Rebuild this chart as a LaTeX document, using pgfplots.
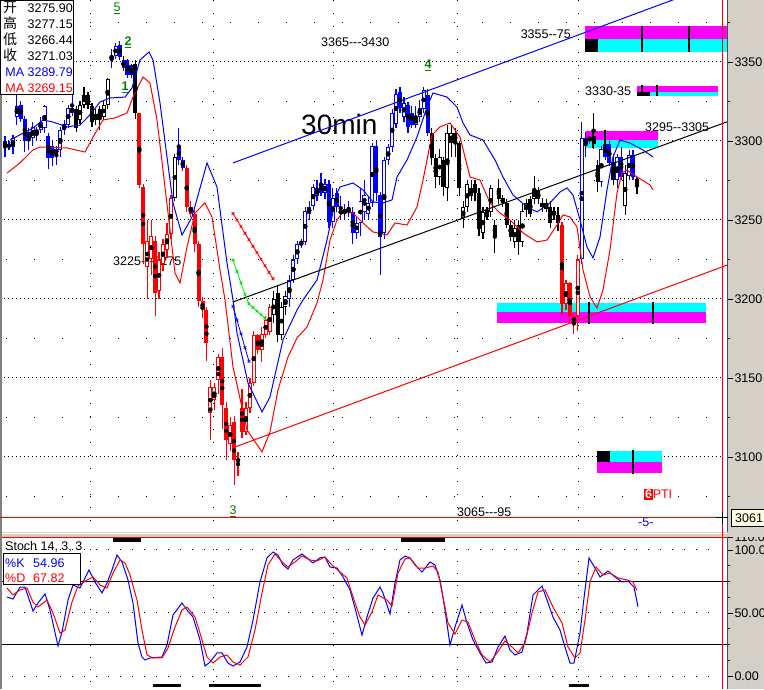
\documentclass[border=0pt]{standalone}
\usepackage{fontspec}
\setmainfont{Liberation Sans}[Ligatures=TeXOff]
\newfontfamily\cjk{Noto Sans CJK SC}
\usepackage{pgfplots}
\usepackage{pgfplotstable}
\pgfplotsset{compat=1.18}
\definecolor{wgray}{RGB}{212,208,200}
\definecolor{dgreen}{RGB}{0,128,0}
\definecolor{cy}{RGB}{0,255,255}
\definecolor{mg}{RGB}{255,0,255}
\definecolor{lg}{RGB}{0,230,0}
\definecolor{pr}{RGB}{255,0,0}
\definecolor{pb}{RGB}{0,0,255}
\definecolor{cream}{RGB}{255,255,225}
\newcommand{\fs}{\fontsize{12.5}{14}\selectfont}

\pgfplotstableread{
i o h l c k
0 3300 3303 3290 3296 2
1 3298 3300 3294 3296 2
2 3296 3304 3292 3302 2
3 3315 3330 3310 3322 2
4 3323 3325 3312 3314 2
5 3314 3316 3293 3300 2
6 3301 3308 3294 3306 2
7 3302 3312 3297 3309 2
8 3305 3309 3300 3307 2
9 3307 3315 3305 3312 2
10 3308 3323 3305 3322 2
11 3303 3305 3282 3289 2
12 3297 3300 3284 3289 2
13 3292 3297 3285 3295 2
14 3294 3309 3290 3307 2
15 3307 3313 3304 3311 2
16 3310 3323 3308 3321 2
17 3321 3329 3316 3318 2
18 3320 3322 3306 3308 3
19 3313 3325 3311 3323 3
20 3323 3334 3321 3329 3
21 3329 3331 3320 3323 3
22 3322 3324 3309 3312 3
23 3313 3320 3310 3317 3
24 3320 3322 3307 3315 3
25 3315 3325 3313 3323 3
26 3323 3340 3320 3339 3
27 3352 3358 3346 3354 2
28 3354 3362 3352 3360 2
29 3361 3363 3351 3353 2
30 3351 3354 3344 3346 2
31 3351 3352 3340 3342 2
32 3348 3349 3340 3342 2
33 3349 3351 3314 3318 3
34 3318 3318 3270 3272 1
35 3271 3273 3222 3235 1
36 3220 3250 3200 3237 1
37 3225 3250 3215 3240 1
38 3237 3240 3189 3204 1
39 3205 3230 3200 3225 1
40 3222 3238 3218 3235 1
41 3231 3248 3226 3241 1
42 3241 3266 3238 3264 1
43 3264 3292 3262 3290 3
44 3296 3308 3285 3288 2
45 3288 3290 3281 3283 2
46 3283 3285 3255 3258 1
47 3258 3262 3252 3254 1
48 3254 3256 3230 3235 1
49 3235 3237 3195 3199 1
50 3199 3201 3188 3193 1
51 3193 3195 3161 3172 1
52 3128 3149 3111 3144 1
53 3136 3147 3130 3144 1
54 3149 3165 3140 3163 1
55 3163 3169 3118 3133 1
56 3131 3135 3098 3111 1
57 3108 3125 3104 3120 1
58 3122 3126 3082 3098 1
59 3099 3103 3088 3097 1
60 3131 3143 3112 3116 1
61 3116 3135 3114 3131 1
62 3131 3150 3128 3147 1
63 3147 3180 3145 3177 1
64 3177 3178 3165 3168 1
65 3168 3182 3160 3178 1
66 3177 3189 3175 3187 1
67 3179 3197 3177 3195 1
68 3190 3205 3185 3200 3
69 3204 3208 3173 3177 3
70 3177 3198 3174 3195 3
71 3195 3205 3190 3202 3
72 3200 3215 3195 3212 2
73 3212 3228 3210 3225 2
74 3225 3237 3222 3235 2
75 3235 3238 3232 3236 2
76 3236 3258 3234 3256 2
77 3254 3262 3250 3258 2
78 3259 3273 3256 3271 2
79 3265 3275 3262 3270 2
80 3273 3280 3265 3267 2
81 3267 3276 3263 3273 2
82 3273 3275 3245 3249 2
83 3249 3270 3245 3264 2
84 3267 3270 3255 3258 2
85 3254 3265 3250 3256 2
86 3255 3260 3250 3256 2
87 3255 3262 3252 3257 2
88 3255 3258 3235 3242 2
89 3242 3252 3238 3248 2
90 3248 3270 3240 3262 2
91 3255 3275 3250 3266 2
92 3254 3265 3250 3261 2
93 3261 3299 3258 3297 2
94 3297 3300 3262 3267 2
95 3266 3268 3215 3239 2
96 3242 3290 3238 3288 2
97 3288 3298 3285 3296 2
98 3296 3320 3293 3318 2
99 3311 3333 3308 3330 2
100 3331 3334 3318 3321 2
101 3315 3328 3312 3324 2
102 3323 3325 3305 3309 2
103 3318 3322 3308 3310 2
104 3310 3322 3308 3315 2
105 3315 3326 3312 3321 2
106 3320 3334 3318 3332 2
107 3329 3333 3303 3305 2
108 3305 3308 3285 3289 3
109 3289 3292 3270 3277 3
110 3277 3295 3272 3290 3
111 3288 3290 3265 3271 3
112 3270 3310 3262 3305 3
113 3299 3310 3290 3305 3
114 3305 3308 3290 3299 3
115 3299 3300 3265 3270 3
116 3251 3262 3245 3258 3
117 3258 3275 3255 3273 3
118 3265 3275 3262 3270 3
119 3273 3275 3262 3267 3
120 3267 3270 3240 3244 3
121 3242 3258 3238 3255 3
122 3256 3258 3250 3252 3
123 3255 3272 3252 3270 3
124 3247 3250 3229 3240 3
125 3270 3276 3260 3263 3
126 3264 3266 3258 3261 3
127 3261 3263 3245 3247 3
128 3247 3250 3237 3239 3
129 3236 3250 3232 3245 3
130 3247 3250 3228 3236 3
131 3236 3260 3233 3256 3
132 3256 3263 3252 3261 3
133 3263 3265 3252 3254 3
134 3263 3278 3260 3269 3
135 3269 3271 3260 3263 3
136 3258 3264 3255 3261 3
137 3261 3263 3255 3257 3
138 3258 3262 3245 3248 3
139 3256 3258 3250 3253 3
140 3253 3258 3243 3248 3
141 3247 3249 3190 3197 1
142 3197 3212 3193 3210 1
143 3210 3211 3184 3189 1
144 3189 3191 3178 3185 1
145 3189 3228 3180 3225 1
146 3225 3312 3222 3302 2
147 3298 3306 3290 3302 2
148 3300 3304 3298 3303 4
149 3303 3318 3295 3298 3
150 3285 3288 3268 3274 3
151 3274 3297 3271 3295 2
152 3298 3300 3288 3290 2
153 3298 3300 3284 3286 2
154 3287 3292 3272 3275 3
155 3275 3292 3270 3290 2
156 3290 3296 3275 3277 2
157 3259 3285 3253 3280 3
158 3278 3294 3275 3291 2
159 3291 3294 3275 3277 2
160 3275.90 3277.15 3266.44 3271.03 3
}\candles

\pgfplotstableread{
x y
10 3300.6
33 3308.2
43 3313.3
53 3312.0
67 3308.9
80 3310.1
90 3316.5
100 3324.7
110 3327.2
125 3327.8
132 3333.5
140 3351.3
149 3356.3
153 3351.3
160 3324.1
167 3289.9
173 3260.8
182 3240.5
192 3251.9
207 3286.1
217 3270.9
227 3222.8
233 3199.4
237 3178.5
248 3146.8
262 3128.5
270 3138.0
283 3174.1
297 3193.0
303 3199.4
317 3212.0
327 3237.3
337 3267.1
340 3270.9
353 3273.4
363 3269.0
373 3261.4
383 3260.8
392 3262.7
397 3277.2
407 3288.0
417 3302.5
427 3321.5
433 3330.4
447 3327.8
457 3321.5
463 3311.4
470 3303.8
483 3300.6
495 3288.0
503 3277.2
513 3265.8
527 3258.2
537 3255.1
550 3260.8
560 3267.7
567 3270.3
573 3265.8
580 3250.0
587 3232.9
593 3226.0
600 3239.2
607 3269.0
613 3289.9
620 3300.6
630 3298.7
643 3294.3
653 3289.9
}\mablue

\pgfplotstableread{
x y
7 3279.7
20 3286.1
33 3294.3
40 3296.2
67 3295.6
85 3293.0
93 3302.5
103 3313.3
115 3314.6
127 3317.7
133 3327.8
143 3340.5
150 3336.7
157 3313.3
163 3281.6
170 3243.7
175 3216.5
180 3210.1
187 3232.9
195 3254.4
205 3260.8
212 3251.9
220 3218.4
225 3199.4
233 3157.0
247 3117.1
262 3103.2
270 3115.8
278 3142.4
288 3163.3
297 3175.3
307 3182.3
317 3197.5
323 3212.0
330 3237.3
337 3250.0
343 3255.1
353 3254.4
363 3248.1
373 3242.4
387 3240.5
395 3248.1
407 3246.8
417 3258.2
423 3275.3
432 3303.8
440 3308.9
450 3311.4
460 3302.5
470 3277.2
480 3275.3
490 3260.8
500 3254.4
510 3250.0
523 3241.8
537 3236.1
547 3237.3
557 3246.8
563 3253.2
570 3251.9
577 3245.6
583 3218.4
590 3201.3
597 3194.3
603 3205.7
610 3231.0
617 3267.1
622 3279.7
627 3281.6
637 3277.2
650 3272.2
653 3269.0
}\mared

\pgfplotstableread{
x y
7 62.7
13 61.1
20 70.6
25 70.6
33 51.6
38 57.9
45 65.1
50 52.4
58 23.8
62 34.9
68 60.3
73 72.2
80 69.8
85 77.8
89 84.1
95 74.6
102 65.9
107 73.8
112 84.1
117 96.0
122 90.5
128 76.2
133 57.9
138 26.2
142 15.1
145 12.7
150 14.3
162 15.1
167 24.6
173 48.4
182 57.9
187 52.4
193 46.8
200 28.6
205 7.9
210 11.1
217 18.3
222 18.3
228 10.3
233 7.9
240 11.1
247 23.0
253 44.4
260 74.6
267 93.7
273 98.4
278 96.0
283 88.1
288 84.9
293 92.1
302 96.8
307 93.7
313 89.7
320 93.7
325 94.4
330 86.5
337 85.7
343 78.6
350 68.3
355 54.0
362 32.5
367 46.8
373 61.9
380 70.6
383 65.9
390 49.2
395 73.8
400 92.1
405 95.2
410 93.7
415 88.1
422 82.5
430 90.5
435 88.1
440 76.2
445 52.4
450 24.6
455 38.9
462 56.3
467 42.1
473 28.6
480 18.3
486 10.3
492 11.1
498 23.0
505 31.7
510 20.6
515 16.7
522 19.0
527 34.1
533 64.3
542 71.4
547 60.3
553 46.8
560 36.5
565 23.0
570 10.3
574 10.3
580 34.1
584 61.9
589 93.7
595 85.7
600 78.6
608 83.3
615 78.6
622 74.6
628 75.4
634 70.6
638 54.96
}\stochk

\pgfplotstableread{
x y
7 69.8
13 64.3
20 68.3
27 69.8
33 58.7
38 54.8
47 60.3
53 50.0
60 34.1
65 36.5
72 58.7
78 71.4
87 76.2
93 78.6
100 72.2
107 69.8
113 81.7
120 92.1
125 89.7
130 80.2
137 60.3
142 36.5
147 16.7
153 14.3
162 14.3
168 22.2
175 38.9
182 52.4
187 54.8
195 46.8
200 34.1
207 15.1
213 10.3
220 15.1
227 16.7
233 11.1
240 8.7
248 15.1
255 36.5
262 65.9
268 88.1
275 96.8
282 90.5
288 86.5
295 90.5
302 95.2
310 92.1
317 91.3
325 94.4
332 88.1
340 82.5
347 77.8
353 62.7
360 46.8
365 40.5
372 50.8
378 64.3
387 60.3
392 55.6
398 81.7
405 92.9
410 93.7
418 85.7
425 85.7
433 87.3
438 82.5
443 62.7
448 42.1
455 33.3
462 44.4
468 42.9
475 28.6
482 16.7
490 11.1
497 18.3
505 27.8
512 23.0
518 18.3
525 26.2
532 50.0
538 66.7
545 68.3
553 54.8
562 42.1
568 23.0
575 14.3
580 18.3
585 44.4
590 74.6
596 86.5
603 80.2
610 81.7
618 77.8
627 76.2
633 74.6
637 67.82
}\stochd

\newcommand{\candlegroup}[2]{%
  \addplot[forget plot, only marks, mark=none,
    restrict expr to domain={\thisrow{k}}{#1:#1},
    error bars/.cd, y dir=both, y explicit, error mark=none,
    error bar style={draw=#2, line width=1.2pt}]
    table[x expr={5+3.95*\thisrow{i}}, y expr={(\thisrow{h}+\thisrow{l})/2},
      y error expr={(\thisrow{h}-\thisrow{l})/2}] {\candles};
  \addplot[forget plot, only marks, mark=none,
    restrict expr to domain={\thisrow{k}}{#1:#1},
    error bars/.cd, y dir=both, y explicit, error mark=none,
    error bar style={draw=#2, line width=4pt}]
    table[x expr={5+3.95*\thisrow{i}}, y expr={(\thisrow{o}+\thisrow{c})/2},
      y error expr={max(abs(\thisrow{o}-\thisrow{c})/2,0.6)}] {\candles};
  \addplot[forget plot, only marks, mark=none,
    restrict expr to domain={\thisrow{k}+10*(\thisrow{c}>\thisrow{o})}{1#1:1#1},
    error bars/.cd, y dir=both, y explicit, error mark=none,
    error bar style={draw=white, line width=2.1pt}]
    table[x expr={5+3.95*\thisrow{i}}, y expr={(\thisrow{o}+\thisrow{c})/2},
      y error expr={max(abs(\thisrow{o}-\thisrow{c})/2-0.65,0)}] {\candles};
}

\pgfplotsset{panel/.style={scale only axis, anchor=south west,
  axis line style={draw=none}, xtick=\empty,
  ytick pos=right, yticklabel pos=right,
  tick align=outside, major tick length=6pt, minor tick length=3pt,
  every tick/.style={black, line width=0.8pt},
  yticklabel style={font=\fs, xshift=-2pt},
  clip=true}}

\begin{document}
\begin{tikzpicture}[x=1pt,y=1pt]
\path[use as bounding box] (0,0) rectangle (764,689);
% right axis background
\fill[wgray] (727,0) rectangle (770,689);
% texts under the plot
\node[anchor=base west, inner sep=0] at (321,642) {\fs 3365---3430};
\node[anchor=base west, inner sep=0] at (301,554) {\fontsize{28}{30}\selectfont 30min};
\node[anchor=base east, inner sep=0] at (571,650) {\fs 3355--75};
\node[anchor=base west, inner sep=0] at (585,593) {\fs 3330-35};
\node[anchor=base west, inner sep=0] at (645,557) {\fs 3295--3305};
\node[anchor=base west, inner sep=0] at (113,423) {\fs 3225---3275};
\node[anchor=base west, inner sep=0] at (457,172) {\fs 3065---95};
\node[anchor=base west, inner sep=0] at (644,190) {\fs\setlength{\fboxsep}{0.8pt}\colorbox{pr}{\textcolor{white}{\textbf{6}}}\textcolor{pr}{PTI}};
\node[anchor=base west, inner sep=0] at (638,162) {\fs\textcolor{pb}{-5-}};
\node[anchor=base, inner sep=0] at (117,677) {\fs\textcolor{dgreen}{\underline{5}}};
\node[anchor=base, inner sep=0] at (128,643) {\fs\textcolor{dgreen}{\underline{\textbf{2}}}};
\node[anchor=base, inner sep=0] at (125,598) {\fs\textcolor{dgreen}{\underline{\textbf{1}}}};
\node[anchor=base, inner sep=0] at (428,620) {\fs\textcolor{dgreen}{\underline{\textbf{4}}}};
\node[anchor=base, inner sep=0] at (233,174) {\fs\textcolor{dgreen}{\underline{3}}};

% ---------------- main price panel
\begin{axis}[panel, at={(0pt,157pt)},
  width=727pt, height=532pt,
  xmin=0, xmax=727, ymin=3052.5, ymax=3389.24,
  ytick={3100,3150,...,3350},
  minor ytick={3075,3125,...,3375},
  /pgf/number format/1000 sep={},
  /pgf/number format/assume math mode=true]
  % grid
  \pgfplotsinvokeforeach{3100,3150,...,3350}{\draw[black, line width=1pt, dash pattern=on 1pt off 3pt] (axis cs:0,#1) -- (axis cs:722,#1);}
  \pgfplotsinvokeforeach{3075,3125,...,3375}{\draw[black, line width=1pt, dash pattern=on 1pt off 27pt, dash phase=-6pt] (axis cs:0,#1) -- (axis cs:722,#1);}
  \pgfplotsinvokeforeach{90,213,333,457,578}{\draw[black, line width=1pt, dash pattern=on 1pt off 12pt] (axis cs:#1,3389) -- (axis cs:#1,3052.5);}
  % zones
  \addplot[forget plot, fill=mg, draw=none] coordinates {(585,3364.6) (727,3364.6) (727,3372.8) (585,3372.8)} --cycle;
  \addplot[forget plot, fill=cy, draw=none] coordinates {(585,3356.3) (727,3356.3) (727,3364.6) (585,3364.6)} --cycle;
  \addplot[forget plot, fill=black, draw=none] coordinates {(585,3356.3) (598,3356.3) (598,3364.6) (585,3364.6)} --cycle;
  \addplot[forget plot, fill=mg, draw=none] coordinates {(637,3331) (718,3331) (718,3334.8) (637,3334.8)} --cycle;
  \addplot[forget plot, fill=cy, draw=none] coordinates {(637,3328.5) (718,3328.5) (718,3331) (637,3331)} --cycle;
  \addplot[forget plot, fill=black, draw=none] coordinates {(637,3328.5) (650,3328.5) (650,3331) (637,3331)} --cycle;
  \addplot[forget plot, fill=mg, draw=none] coordinates {(586,3300.6) (658,3300.6) (658,3306.3) (586,3306.3)} --cycle;
  \addplot[forget plot, fill=cy, draw=none] coordinates {(586,3295.6) (658,3295.6) (658,3300.6) (586,3300.6)} --cycle;
  \addplot[forget plot, fill=cy, draw=none] coordinates {(497,3191.8) (706,3191.8) (706,3197.5) (497,3197.5)} --cycle;
  \addplot[forget plot, fill=mg, draw=none] coordinates {(497,3184.8) (706,3184.8) (706,3191.8) (497,3191.8)} --cycle;
  \addplot[forget plot, fill=cy, draw=none] coordinates {(597,3096.8) (662,3096.8) (662,3103.8) (597,3103.8)} --cycle;
  \addplot[forget plot, fill=mg, draw=none] coordinates {(597,3089.9) (662,3089.9) (662,3096.8) (597,3096.8)} --cycle;
  \addplot[forget plot, fill=black, draw=none] coordinates {(597,3096.8) (610,3096.8) (610,3103.8) (597,3103.8)} --cycle;
  % candles
  \candlegroup{1}{pr}
  \candlegroup{2}{pb}
  \candlegroup{3}{black}
  \candlegroup{4}{mg}
  % moving averages
  \addplot[forget plot, pb, line width=1pt] table[x=x,y=y] {\mablue};
  \addplot[forget plot, pr, line width=1pt] table[x=x,y=y] {\mared};
  % trend lines
  \addplot[forget plot, pb, line width=1pt] coordinates {(233,3286.1) (727,3402)};
  \addplot[forget plot, black, line width=1pt] coordinates {(233,3198.1) (727,3312.1)};
  \addplot[forget plot, pr, line width=1pt] coordinates {(235,3106.3) (727,3221.4)};
  \addplot[forget plot, pr, line width=0.8pt, mark=x, mark size=2pt] coordinates {(233,3254.1) (237,3250.0) (241,3245.8) (245,3241.6) (249,3237.5) (253,3233.4) (257,3229.3) (261,3225.2) (265,3221.0) (269,3216.9) (273,3212.8)};
  \addplot[forget plot, lg, line width=0.8pt, mark=x, mark size=2pt] coordinates {(233,3224.7) (237,3217.4) (241,3210.1) (245,3202.9) (249,3196.8) (253,3194.6) (257,3192.3) (261,3190.1) (265,3187.8)};
  \addplot[forget plot, pb, line width=0.8pt, mark=x, mark size=2pt] coordinates {(233,3195.3) (237,3186.6) (241,3177.9) (245,3169.2) (249,3160.5)};
  % zone ticks
  \addplot[forget plot, black, line width=2pt] coordinates {(642,3372.8) (642,3356.3)};
  \addplot[forget plot, black, line width=2pt] coordinates {(689,3372.8) (689,3356.3)};
  \addplot[forget plot, black, line width=2pt] coordinates {(642,3335.4) (642,3328.4)};
  \addplot[forget plot, black, line width=2pt] coordinates {(657,3335.4) (657,3328.4)};
  \addplot[forget plot, black, line width=2pt] coordinates {(593,3306.9) (593,3295.6)};
  \addplot[forget plot, black, line width=2pt] coordinates {(605,3306.9) (605,3295.6)};
  \addplot[forget plot, black, line width=2pt] coordinates {(589,3198.1) (589,3184.2)};
  \addplot[forget plot, black, line width=2pt] coordinates {(653,3198.1) (653,3184.2)};
  \addplot[forget plot, black, line width=2pt] coordinates {(633,3104.4) (633,3089.2)};
\end{axis}

% ---------------- stochastic panel
\begin{axis}[panel, at={(0pt,0pt)},
  width=727pt, height=152pt,
  xmin=0, xmax=727, ymin=-10.3, ymax=110.3,
  ytick={0,50,100,110}, yticklabels={0.00,50.00,100.0,110.0},
  minor ytick={12.5,25,37.5,62.5,75,87.5}]
  \pgfplotsinvokeforeach{0,50,100}{\draw[black, line width=1pt, dash pattern=on 1pt off 11pt] (axis cs:0,#1) -- (axis cs:720,#1);}
  \pgfplotsinvokeforeach{25,75}{\draw[black, line width=1pt] (axis cs:0,#1) -- (axis cs:727,#1);}
  \pgfplotsinvokeforeach{90,213,333,457,578}{\draw[black, line width=1pt, dash pattern=on 1pt off 11pt] (axis cs:#1,110.3) -- (axis cs:#1,-10.3);}
  \addplot[forget plot, pb, line width=1pt] table[x=x,y=y] {\stochk};
  \addplot[forget plot, pr, line width=1pt] table[x=x,y=y] {\stochd};
  \addplot[forget plot, black, line width=3.5pt] coordinates {(113,107.9) (141,107.9)};
  \addplot[forget plot, black, line width=3.5pt] coordinates {(401,107.9) (445,107.9)};
  \addplot[forget plot, black, line width=3.5pt] coordinates {(153,-7.5) (181,-7.5)};
  \addplot[forget plot, black, line width=3.5pt] coordinates {(209,-7.5) (261,-7.5)};
  \addplot[forget plot, black, line width=3.5pt] coordinates {(569,-7.5) (589,-7.5)};
\end{axis}

% right axis lines
\draw[black!70, line width=1pt] (727.5,0) -- (727.5,689);
% separator between panels
\fill[wgray] (0,152) rectangle (770,157);
\draw[white, line width=1pt] (0,155) -- (727,155);
\draw[pr, line width=1pt] (0,151.5) -- (727,151.5);
% left border
\draw[black!50, line width=2pt] (1,0) -- (1,689);
% crosshair
\draw[pr, line width=1pt] (0,171) -- (722,171);
\draw[pr, line width=1pt] (722,0) -- (722,689);
\draw[black, line width=1pt] (716,171) -- (728,171) (722,165) -- (722,177);
\draw[black, line width=1pt, fill=cream] (731,162) rectangle (770,179);
\node[anchor=base west, inner sep=0] at (735,166) {\fs 3061};

% info box
\fill[white] (0,594) rectangle (74,689);
\draw[black, line width=1pt] (0.5,594.5) rectangle (73.5,688.5);
\node[anchor=base west, inner sep=0] at (3,676) {\cjk\fontsize{14}{14}\selectfont 开};
\node[anchor=base west, inner sep=0] at (3,660) {\cjk\fontsize{14}{14}\selectfont 高};
\node[anchor=base west, inner sep=0] at (3,644) {\cjk\fontsize{14}{14}\selectfont 低};
\node[anchor=base west, inner sep=0] at (3,628) {\cjk\fontsize{14}{14}\selectfont 收};
\node[anchor=base east, inner sep=0] at (73,676) {\fs 3275.90};
\node[anchor=base east, inner sep=0] at (73,660) {\fs 3277.15};
\node[anchor=base east, inner sep=0] at (73,644) {\fs 3266.44};
\node[anchor=base east, inner sep=0] at (73,628) {\fs 3271.03};
\node[anchor=base east, inner sep=0] at (73,612) {\fs\textcolor{pb}{MA 3289.79}};
\node[anchor=base east, inner sep=0] at (73,596) {\fs\textcolor{pr}{MA 3269.15}};

% stoch legend
\node[anchor=base west, inner sep=0] at (5,138) {\fs Stoch 14, 3, 3};
\fill[white] (3,104) rectangle (80,135);
\draw[black, line width=1pt] (3,104) rectangle (80,135);
\node[anchor=base west, inner sep=0] at (5,121) {\fs\textcolor{pb}{\%K}};
\node[anchor=base west, inner sep=0] at (33,121) {\fs\textcolor{pb}{54.96}};
\node[anchor=base west, inner sep=0] at (5,106) {\fs\textcolor{pr}{\%D}};
\node[anchor=base west, inner sep=0] at (33,106) {\fs\textcolor{pr}{67.82}};
\end{tikzpicture}
\end{document}
